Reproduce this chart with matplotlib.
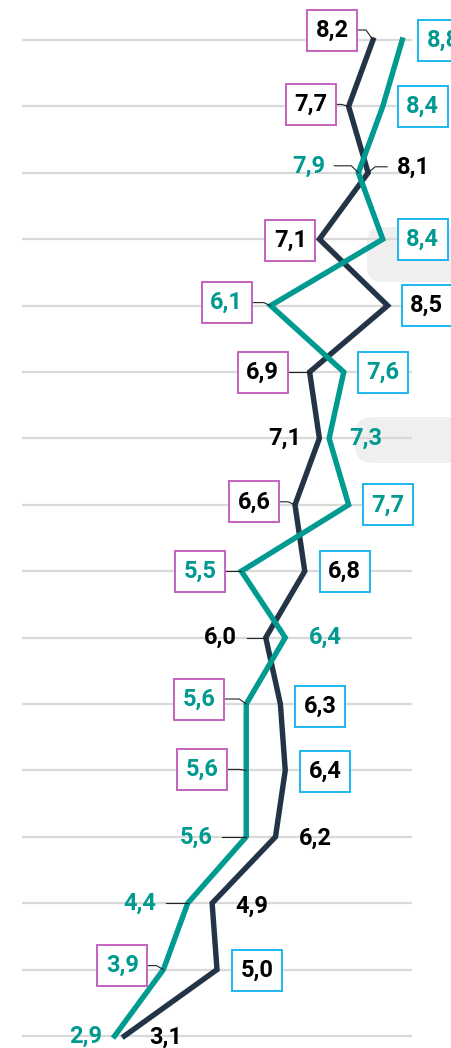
import matplotlib
matplotlib.use("Agg")
import matplotlib.pyplot as plt
from matplotlib.patches import Rectangle, FancyBboxPatch

# ---------------- data ----------------
rows = list(range(16))
dark_values = [8.2, 7.7, 8.1, 7.1, 8.5, 6.9, 7.1, 6.6, 6.8, 6.0, 6.3, 6.4, 6.2, 4.9, 5.0, 3.1]
teal_values = [8.8, 8.4, 7.9, 8.4, 6.1, 7.6, 7.3, 7.7, 5.5, 6.4, 5.6, 5.6, 5.6, 4.4, 3.9, 2.9]

# ---------------- label layout (pixel offsets from the point) ----------------
# (dx, dy, box, leader)  box: 'm' magenta, 'c' cyan, None
dark_labels = [(-41, -10, 'm', True), (-38, -2, 'm', True), (45, -6, None, True),
               (-29, 1, 'm', False), (39, 0, 'c', False), (-47, 0, 'm', True),
               (-35, 0, None, False), (-41, -3, 'm', True), (40, 0, 'c', False),
               (-45, 0, None, True), (40, 2, 'c', False), (40, 1, 'c', False),
               (40, 1, None, False), (40, 3, None, False), (40, 1, 'c', False),
               (41, 1, None, False)]
teal_labels = [(41, 0, 'c', False), (40, 0, 'c', False), (-50, -7, None, True),
               (40, 0, 'c', False), (-44, -3, 'm', True), (39, 0, 'c', False),
               (37, 0, None, False), (39, 0, 'c', False), (-41, 0, 'm', True),
               (40, 0, None, False), (-47, -5, 'm', True), (-44, -1, 'm', True),
               (-50, 0, None, True), (-48, 0, None, True), (-41, -4, 'm', True),
               (-29, 0, None, False)]

DARK = "#243447"
TEAL = "#009A90"
MAG = "#C462C0"
CYAN = "#1CB8F0"
GRID = "#D9D9D9"

W, H = 452, 1048
fig = plt.figure(figsize=(W / 100, H / 100), dpi=100)
fig.patch.set_facecolor("white")

# background (pixel space) for the soft grey rounded shapes
bg = fig.add_axes([0, 0, 1, 1], zorder=0)
bg.set_xlim(0, W)
bg.set_ylim(H, 0)
bg.axis("off")
for (x0, y0, x1, y1, r) in [(367, 227, 480, 282, 15), (355, 417, 480, 463, 18)]:
    bg.add_patch(FancyBboxPatch((x0, y0), x1 - x0, y1 - y0,
                                boxstyle=f"round,pad=0,rounding_size={r}",
                                fc="#EFEFEF", ec="none"))

# main axes: x 1..9 over pixels 22..412 ; rows spaced 66.4 px from y=40
ax = fig.add_axes([22 / W, 0, 390 / W, 1], zorder=1)
ax.patch.set_alpha(0)
ax.set_xlim(1, 9)
row_px = 66.4
ax.set_ylim((H - 40) / row_px, -40 / row_px)
ax.axis("off")
px_x = 390 / 8.0  # pixels per value unit

ax.hlines(rows, 1, 9, color=GRID, lw=1.6, zorder=1)

ax.plot(dark_values, rows, color=DARK, lw=3.9, zorder=3, clip_on=False,
        solid_joinstyle="miter")
ax.plot(teal_values, rows, color=TEAL, lw=3.9, zorder=3, clip_on=False,
        solid_joinstyle="miter")

FONT = ["Roboto", "DejaVu Sans"]


def draw_labels(values, layout, color):
    for r, v, (dx, dy, box, leader) in zip(rows, values, layout):
        cx = v + dx / px_x
        cy = r + dy / row_px
        ax.text(cx, cy, f"{v:.1f}".replace(".", ","), ha="center", va="center",
                fontsize=17, fontweight="bold", color=color, family=FONT,
                zorder=6, clip_on=False)
        if box:
            bw, bh = 50 / px_x, 41 / row_px
            ax.add_patch(Rectangle((cx - bw / 2, cy - bh / 2), bw, bh,
                                   fc="white", ec=MAG if box == 'm' else CYAN,
                                   lw=1.4, zorder=5, clip_on=False))
        if leader:
            sgn = 1 if dx < 0 else -1
            sx = cx + sgn * 26 / px_x
            ex = v - sgn * 7 / px_x
            xs = [sx, ex, v] if abs(dy) > 0 else [sx, v]
            ys = [cy, cy, r] if abs(dy) > 0 else [cy, r]
            ax.plot(xs, ys, color="#222222", lw=0.8, zorder=4, clip_on=False)


draw_labels(dark_values, dark_labels, "#000000")
draw_labels(teal_values, teal_labels, TEAL)

fig.savefig("out.png", dpi=100, facecolor="white")
